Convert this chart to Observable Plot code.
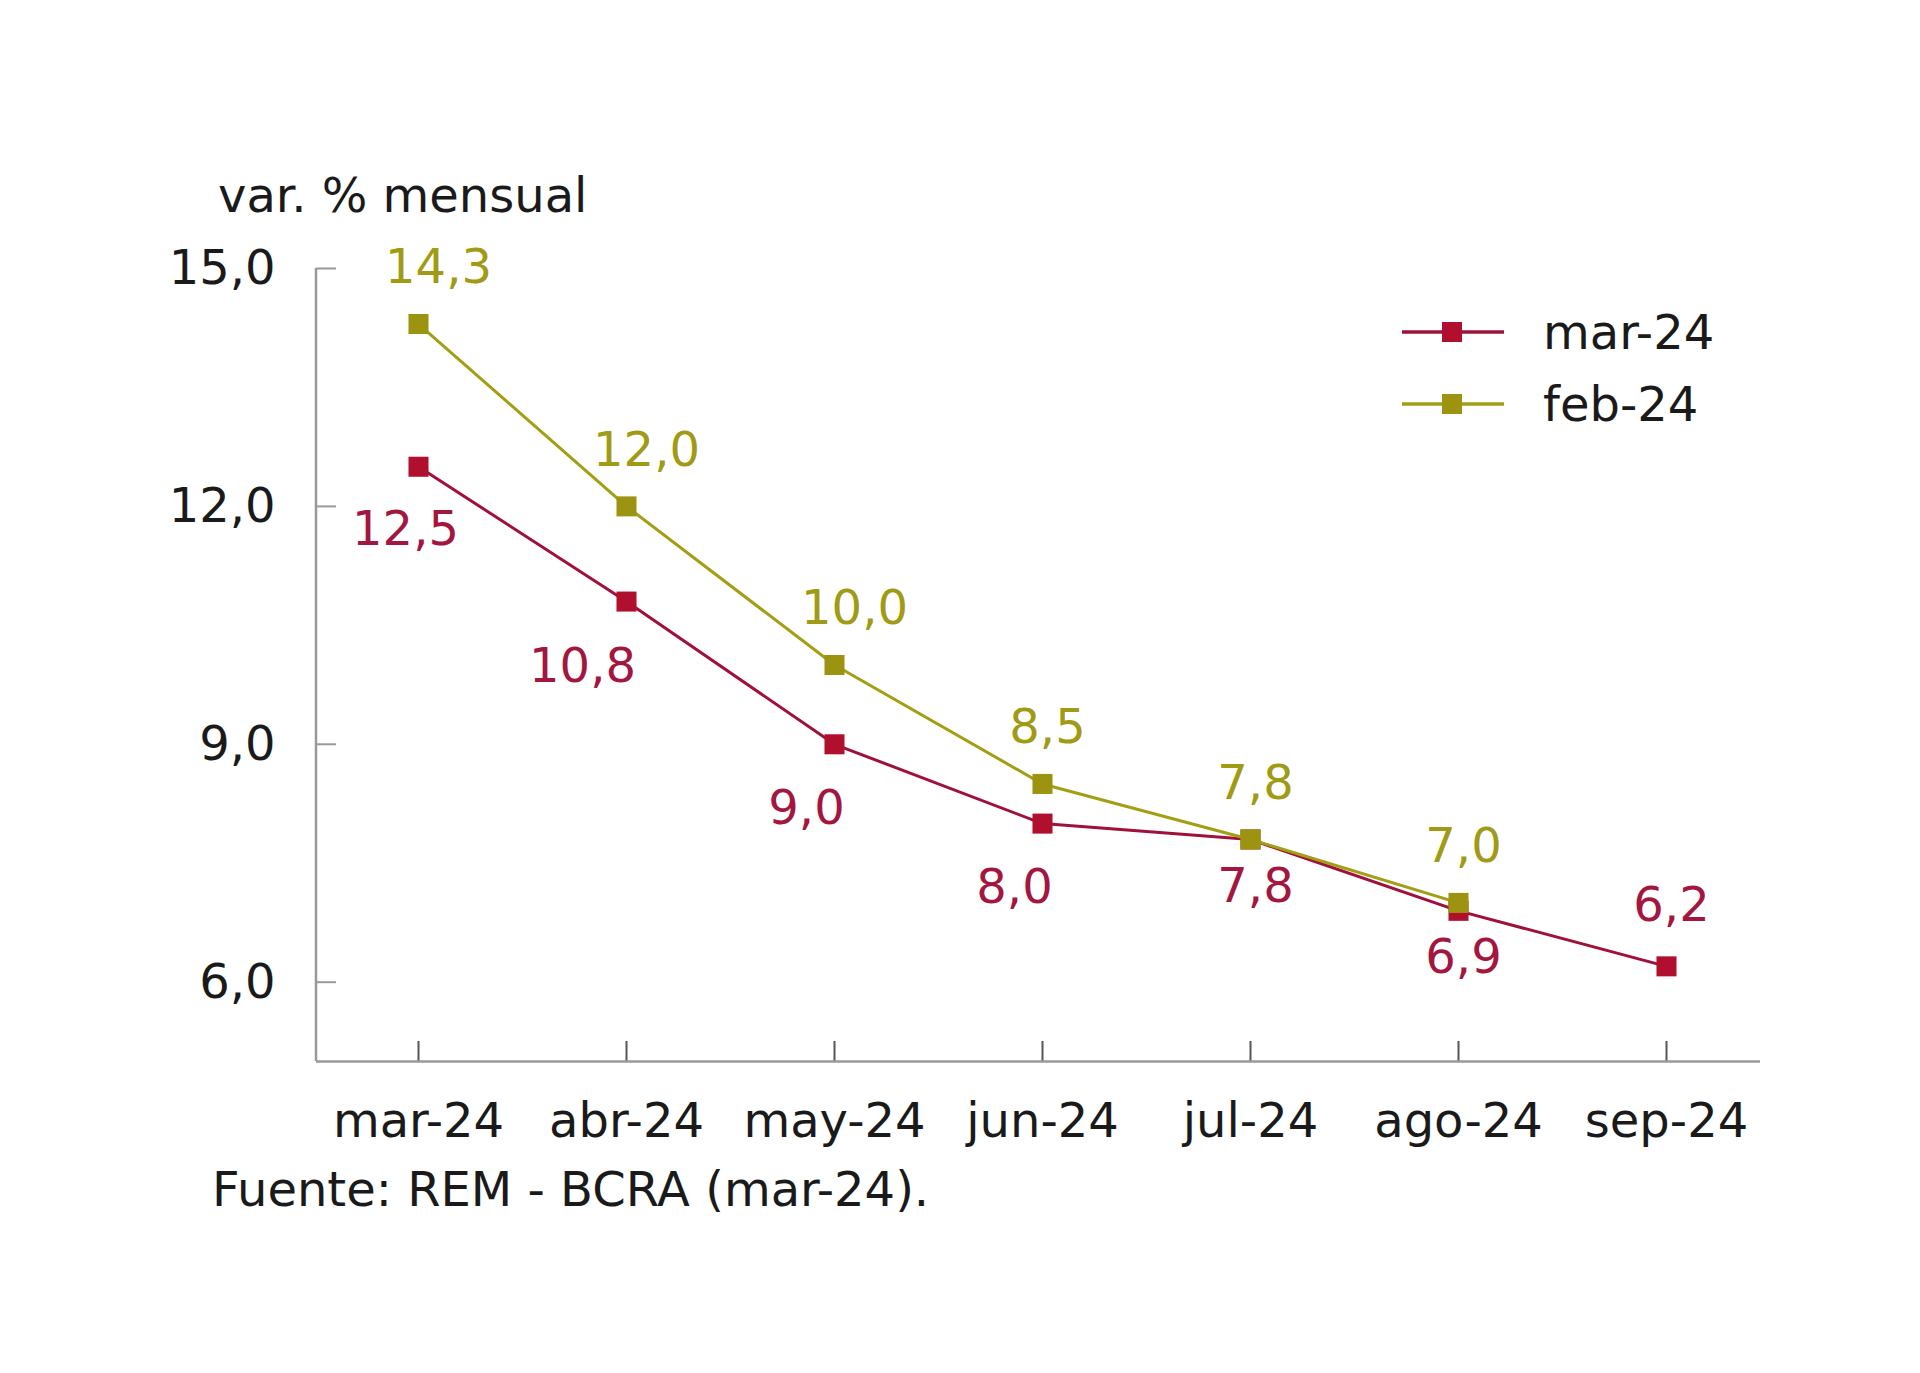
<!DOCTYPE html>
<html><head><meta charset="utf-8">
<script src="https://cdn.jsdelivr.net/npm/d3@7"></script>
<script src="https://cdn.jsdelivr.net/npm/@observablehq/plot@0.6"></script>
<style>
body{margin:0;background:#fff;}
#wrap{position:relative;width:1920px;height:1373px;font-family:"DejaVu Sans";}
.ov{position:absolute;font-size:48px;line-height:48px;color:#1a1a1a;white-space:nowrap;}
</style></head><body>
<div id="wrap"></div>
<script>
// ---- data ----
const months = ["mar-24","abr-24","may-24","jun-24","jul-24","ago-24","sep-24"];
const serieMar24 = [12.5, 10.8, 9.0, 8.0, 7.8, 6.9, 6.2];
const serieFeb24 = [14.3, 12.0, 10.0, 8.5, 7.8, 7.0, null];
const yTicks = [6, 9, 12, 15];
const seriesNames = ["mar-24", "feb-24"];
const titleText = "var. % mensual";
const captionText = "Fuente: REM - BCRA (mar-24).";

// ---- styles ----
const RED_LINE = "#a0103a", RED_DOT = "#b0102e", RED_TXT = "#a3163f";
const OLV_LINE = "#a39e14", OLV_DOT = "#9c9410", OLV_TXT = "#a09a14";
const FONT = "DejaVu Sans";

const rowsMar = months.map((m, i) => ({mes: m, v: serieMar24[i], i}));
const rowsFeb = months.map((m, i) => ({mes: m, v: serieFeb24[i], i})).filter(d => d.v != null);
const fmt = d => d.toFixed(1).replace(".", ",");

const W = 1920, H = 1373, mL = 316, mR = 160, mT = 268, mB = 312;
const frameW = W - mL - mR, frameH = H - mT - mB;

const leftAxisLine = (index, scales, values, dims) => {
  const l = document.createElementNS("http://www.w3.org/2000/svg", "line");
  l.setAttribute("x1", dims.marginLeft);
  l.setAttribute("x2", dims.marginLeft);
  l.setAttribute("y1", dims.marginTop);
  l.setAttribute("y2", dims.height - dims.marginBottom);
  l.setAttribute("stroke", "#999");
  l.setAttribute("stroke-width", 2.5);
  return l;
};

const lbl = (rows, filter, dx, dy, fill) =>
  Plot.text(rows.filter(filter), {x: "mes", y: "v", text: d => fmt(d.v), dx, dy, fill, fontSize: 48});

const chart = Plot.plot({
  width: W, height: H,
  marginLeft: mL, marginRight: mR, marginTop: mT, marginBottom: mB,
  style: {fontFamily: FONT, fontSize: "48px", color: "#1a1a1a", background: "transparent"},
  x: {type: "point", domain: months, padding: 0.47, align: 0.52},
  y: {domain: [5, 15]},
  marks: [
    Plot.axisY(yTicks, {tickSize: 0, tickPadding: 41, tickFormat: fmt, fontSize: 48, fill: "#1a1a1a", label: null}),
    Plot.axisX(months, {tickSize: 0, tickPadding: 41, fontSize: 48, fill: "#1a1a1a", label: null}),
    Plot.tickY(yTicks, {stroke: "#999", strokeWidth: 2, insetRight: frameW - 20}),
    Plot.tickX(months, {stroke: "#555", strokeWidth: 2, insetTop: frameH - 20}),
    Plot.ruleY([5], {stroke: "#999", strokeWidth: 2.5}),
    leftAxisLine,
    Plot.line(rowsMar, {x: "mes", y: "v", stroke: RED_LINE, strokeWidth: 3}),
    Plot.dot(rowsMar, {x: "mes", y: "v", symbol: "square", r: 11.3, fill: RED_DOT, stroke: null}),
    Plot.line(rowsFeb, {x: "mes", y: "v", stroke: OLV_LINE, strokeWidth: 3}),
    Plot.dot(rowsFeb, {x: "mes", y: "v", symbol: "square", r: 11.3, fill: OLV_DOT, stroke: null}),
    lbl(rowsMar, d => d.i === 0, -13, 63, RED_TXT),
    lbl(rowsMar, d => d.i === 1, -44, 65, RED_TXT),
    lbl(rowsMar, d => d.i === 2 || d.i === 3, -28, 64, RED_TXT),
    lbl(rowsMar, d => d.i === 4 || d.i === 5, 5, 47, RED_TXT),
    lbl(rowsMar, d => d.i === 6, 5, -61, RED_TXT),
    lbl(rowsFeb, d => d.i <= 2, 20, -56, OLV_TXT),
    lbl(rowsFeb, d => d.i >= 3, 5, -56, OLV_TXT)
  ]
});

const wrap = document.getElementById("wrap");
wrap.appendChild(chart);

function addText(txt, left, top) {
  const d = document.createElement("div");
  d.className = "ov";
  d.style.left = left + "px";
  d.style.top = top + "px";
  d.textContent = txt;
  wrap.appendChild(d);
}
addText(titleText, 218, 171);
addText(captionText, 212, 1165);

// legend
const legendColors = [[RED_LINE, RED_DOT], [OLV_LINE, OLV_DOT]];
seriesNames.forEach((name, k) => {
  const cy = 332 + k * 72;
  const s = d3.create("svg").attr("width", 104).attr("height", 30)
    .style("position", "absolute").style("left", "1401px").style("top", (cy - 15) + "px");
  s.append("line").attr("x1", 1).attr("x2", 103).attr("y1", 15).attr("y2", 15)
    .attr("stroke", legendColors[k][0]).attr("stroke-width", 3.5);
  s.append("rect").attr("x", 41).attr("y", 5).attr("width", 20).attr("height", 20)
    .attr("fill", legendColors[k][1]);
  wrap.appendChild(s.node());
  addText(name, 1543, cy - 24);
});
</script>
</body></html>
